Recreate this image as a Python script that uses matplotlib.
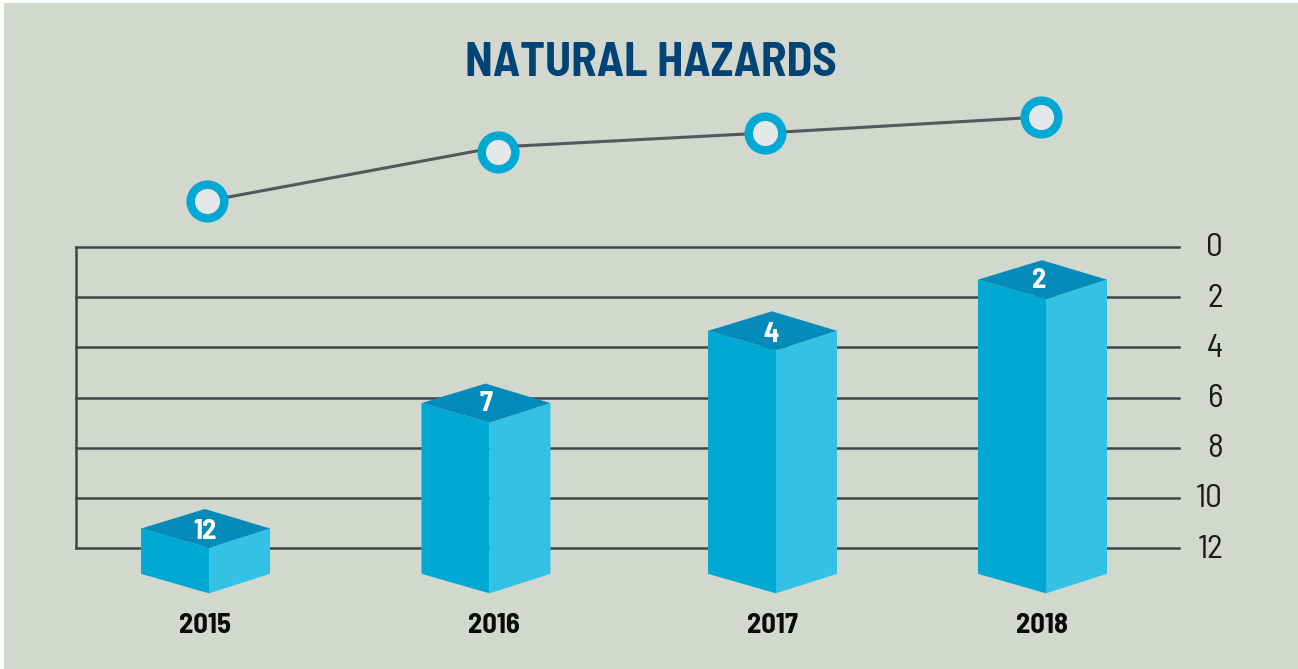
import matplotlib
matplotlib.use('Agg')
import matplotlib.pyplot as plt
from matplotlib.patches import Polygon, Rectangle
from matplotlib.transforms import ScaledTranslation

W, H = 1298, 669

years = ['2015', '2016', '2017', '2018']
values = [12, 7, 4, 2]
trend_marks = [31, 80, 99, 115]
trend_line = [31, 85, 99, 115]
ticks = [0, 2, 4, 6, 8, 10, 12]

# x positions, in figure pixels (the chart is not evenly spaced)
bar_x = [205, 485.5, 772, 1042]
trend_x = [207, 498, 765, 1041]
year_x = [205, 494, 772, 1042]
num_x = [205, 486, 771, 1039]
# small hand corrections in pixels, the bars are not exactly on the scale
bar_dy = [-1, -1, 2, 1]
num_dy = [3, 0, 4, 1]

plt.rcParams['font.family'] = ['Barlow Semi Condensed', 'Liberation Sans', 'DejaVu Sans']

BG = '#d3d8ce'
DARK = '#434646'
BLUE = '#00a9d4'
LIGHT = '#33c1e6'
TOP = '#038cba'

fig = plt.figure(figsize=(W / 100, H / 100), dpi=100, facecolor='white')
fig.add_artist(Rectangle((4 / W, 0.5 / H), (W - 4) / W, (H - 3.5) / H, transform=fig.transFigure,
                         facecolor=BG, edgecolor='none', zorder=-5))

left, right, top, bottom = 76, 1179, 247, 548
ax = fig.add_axes([left / W, 1 - bottom / H, (right - left) / W, (bottom - top) / H])
ax.patch.set_visible(False)
ax.set_xlim(left, right)
ax.set_ylim(12, 0)
unit = (bottom - top) / 12

ax.set_xticks([])
ax.set_yticks(ticks)
ax.yaxis.tick_right()
ax.tick_params(axis='y', length=0, pad=31.7, labelsize=24, labelcolor='#1a1a1a')
for lab in ax.get_yticklabels():
    lab.set_horizontalalignment('right')
    lab.set_transform(lab.get_transform() + ScaledTranslation(0, 2 / 100, fig.dpi_scale_trans))
ax.grid(axis='y', color=DARK, linewidth=1.8, clip_on=False)
for g in ax.get_ygridlines():
    g.set_clip_on(False)
ax.set_axisbelow(True)
for s in ['top', 'right', 'bottom']:
    ax.spines[s].set_visible(False)
ax.spines['left'].set_color(DARK)
ax.spines['left'].set_linewidth(1.8)

# bars: 3d look, top centre sits a bit above the value on the scale
lift = 18.5 / unit
half_d = 19.5 / unit
base = 13.03
for c, v, nx, yr, yx, bd, nd in zip(bar_x, values, num_x, years, year_x, bar_dy, num_dy):
    l, r = c - 64, c + 65
    f = l + 68
    t = l + 64
    y = v - lift + bd / unit
    ax.add_patch(Polygon([(l, y), (f, y + half_d), (f, base + half_d), (l, base)],
                         facecolor=BLUE, edgecolor='none', clip_on=False, zorder=3))
    ax.add_patch(Polygon([(f, y + half_d), (r, y), (r, base), (f, base + half_d)],
                         facecolor=LIGHT, edgecolor='none', clip_on=False, zorder=3))
    ax.add_patch(Polygon([(l, y), (t, y - half_d), (r, y), (f, y + half_d)],
                         facecolor=TOP, edgecolor='none', clip_on=False, zorder=4))
    ax.text(nx, y + nd / unit, str(v), color='white', fontsize=20.5, fontweight='bold',
            ha='center', va='center', clip_on=False, zorder=5)
    ax.text(yx, 15.1, yr, color='#0a0a0a', fontsize=20.5, fontweight='bold',
            ha='center', va='center', clip_on=False)

# line above the grid
ax2 = fig.add_axes([left / W, 1 - 232 / H, (right - left) / W, 132 / H])
ax2.axis('off')
ax2.set_xlim(left, right)
ax2.set_ylim(0, 132)
ax2.plot(trend_x, trend_line, color='#54585a', linewidth=2.2, zorder=2, clip_on=False)
ax2.plot(trend_x, trend_marks, linestyle='none', marker='o', markersize=24.2, markeredgewidth=6.1,
         markerfacecolor='#e6e7e8', markeredgecolor=BLUE, zorder=3, clip_on=False)

fig.text(651 / W, 1 - 76 / H, 'NATURAL HAZARDS', color='#024375', fontsize=34,
         fontweight='bold', ha='center', va='baseline')

fig.savefig('out.png', dpi=100, facecolor=fig.get_facecolor())
